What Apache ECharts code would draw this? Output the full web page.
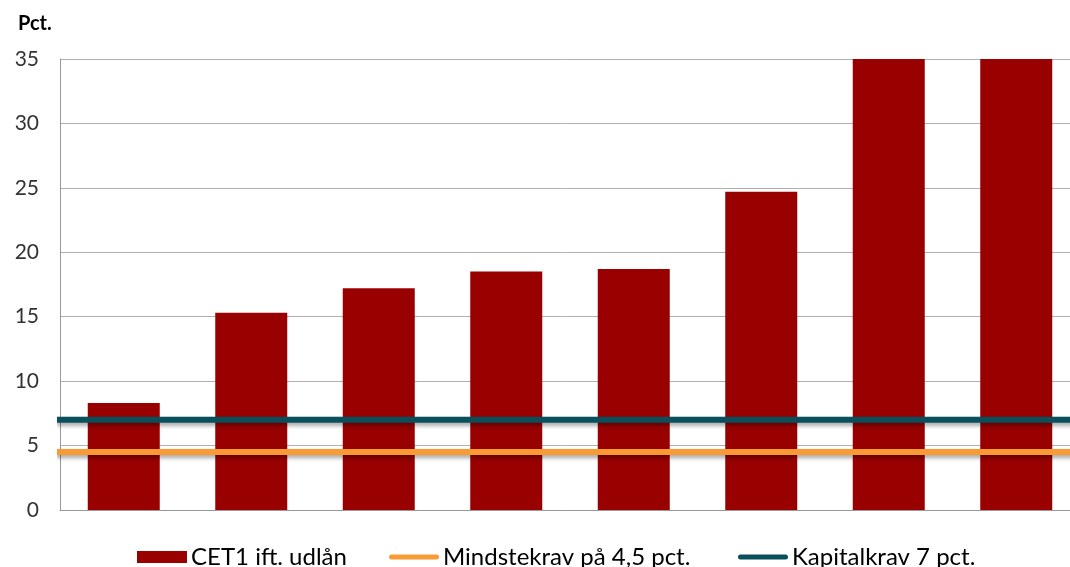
<!DOCTYPE html>
<html>
<head>
<meta charset="utf-8">
<script src="https://cdn.jsdelivr.net/npm/echarts@6/dist/echarts.min.js"></script>
<style>
html,body{margin:0;padding:0;background:#fff;}
#chart{width:1070px;height:567px;}
</style>
</head>
<body>
<div id="chart"></div>
<script>
const categories = ['1','2','3','4','5','6','7','8'];
const cet1Values = [8.3, 15.3, 17.2, 18.5, 18.7, 24.7, 35, 35];
const minReq = 4.5;
const capReq = 7;
const yTicks = [0, 5, 10, 15, 20, 25, 30, 35];
const seriesNames = ['CET1 ift. udlån', 'Mindstekrav på 4,5 pct.', 'Kapitalkrav 7 pct.'];

const font = 'Lato, "Open Sans", sans-serif';
const lineIcon = 'path://M2.5,0h45a2.5,2.5 0 0 1 0,5h-45a2.5,2.5 0 0 1 0,-5z';
function legendAt(left, name, icon) {
  return {
    left: left, top: 545, padding: 0,
    itemWidth: 50, itemHeight: 12, itemGap: 0,
    symbolKeepAspect: true,
    textStyle: {fontSize: 24, color: '#000', fontFamily: font, padding: [0,0,0,-1]},
    data: [{name: name, icon: icon}]
  };
}

const chart = echarts.init(document.getElementById('chart'));
chart.setOption({
  animation: false,
  textStyle: {fontFamily: font},
  title: {
    text: 'Pct.', left: 13, top: 9,
    textStyle: {fontSize: 20, fontWeight: 'bold', color: '#000', fontFamily: font}
  },
  legend: [
    legendAt(137, seriesNames[0], 'rect'),
    legendAt(389, seriesNames[1], lineIcon),
    legendAt(738, seriesNames[2], lineIcon)
  ],
  grid: {left: 60, top: 59, width: 1020, height: 451, outerBoundsMode: 'none'},
  xAxis: [
    {type: 'category', data: categories, axisLabel: {show: false}, axisTick: {show: false},
     axisLine: {lineStyle: {color: '#999', width: 1}}},
    {type: 'value', min: 0, max: 1, show: false}
  ],
  yAxis: {
    type: 'value', min: 0, max: 35, interval: 5,
    axisLine: {show: true, lineStyle: {color: '#999', width: 1}},
    axisTick: {show: false},
    axisLabel: {fontSize: 21, color: '#333', margin: 21, fontFamily: font,
      formatter: v => yTicks.includes(v) ? String(v) : ''},
    splitLine: {lineStyle: {color: '#b0b0b0', width: 1}}
  },
  series: [
    {name: seriesNames[0], type: 'bar', data: cet1Values, barWidth: 72,
     itemStyle: {color: '#990000'}, z: 2},
    {name: seriesNames[1], type: 'line', xAxisIndex: 1, symbol: 'none',
     data: [[-0.004, minReq], [1, minReq]],
     lineStyle: {color: '#f99b35', width: 6, shadowColor: 'rgba(0,0,0,0.35)', shadowBlur: 4, shadowOffsetY: 3},
     itemStyle: {color: '#f99b35'}, z: 3},
    {name: seriesNames[2], type: 'line', xAxisIndex: 1, symbol: 'none',
     data: [[-0.004, capReq], [1, capReq]],
     lineStyle: {color: '#0a4f5c', width: 6, shadowColor: 'rgba(0,0,0,0.35)', shadowBlur: 4, shadowOffsetY: 3},
     itemStyle: {color: '#0a4f5c'}, z: 3}
  ]
});
</script>
</body>
</html>
